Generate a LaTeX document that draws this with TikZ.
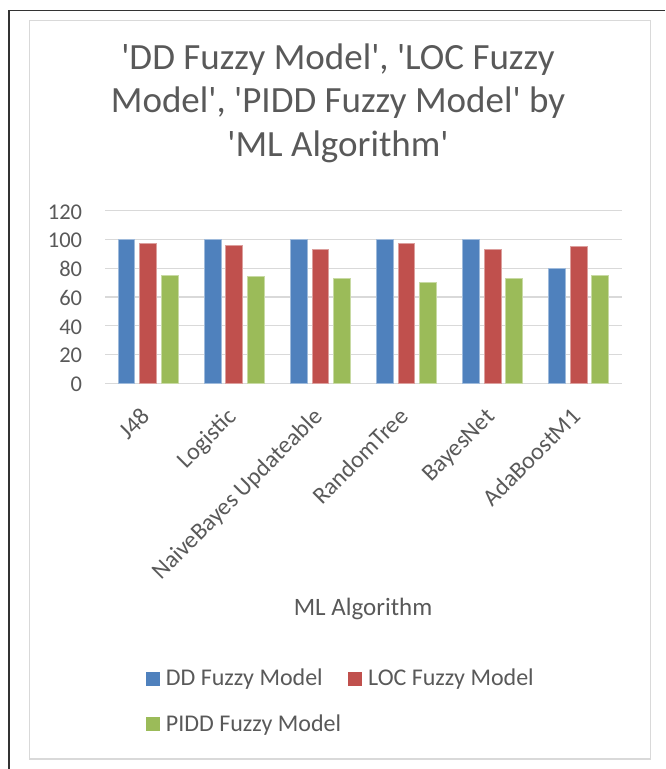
\documentclass[tikz,border=0pt]{standalone}
\usepackage{fontspec}
\setmainfont{Carlito}[Ligatures=TeXOff]
\usetikzlibrary{positioning}

\definecolor{ddblue}{HTML}{4F81BD}
\definecolor{locred}{HTML}{C0504D}
\definecolor{piddgreen}{HTML}{9BBB59}
\definecolor{labelgray}{HTML}{595959}
\definecolor{gridgray}{HTML}{D9D9D9}

\begin{document}
\begin{tikzpicture}[x=1pt,y=-1pt,
  grid line/.style={draw=gridgray,line width=1.4pt},
  bar/.style={line width=0.8pt},
  tick label/.style={text=labelgray,inner sep=0pt,
    font=\fontsize{22.5}{27}\selectfont},
  legend key/.style={minimum size=14pt,inner sep=0pt,outer sep=0pt},
  legend text/.style={text=labelgray,inner sep=0pt,
    font=\fontsize{24}{29}\selectfont}]

  \useasboundingbox (0,0) rectangle (665,769);

  % Outer frame (only top and left edges are visible) and chart area

  \draw [black!80, line width=1.6pt] (9,769) -- (9,10.3) -- (665,10.3);
  \draw [gridgray, line width=1.5pt] (29.7,20.7) rectangle (650.3,759);

  % Chart title

  \node [text=labelgray, align=center, anchor=base, inner sep=0pt,
    font=\fontsize{37}{43.2}\selectfont] (title) at (338,156)
    {'DD Fuzzy Model', 'LOC Fuzzy\\
     Model', 'PIDD Fuzzy Model' by\\
     'ML Algorithm'};

  % Value axis: gridlines every 20 units (1 unit = 1.4383pt)

  \foreach \v in {0,20,...,120} {
    \draw [grid line] (105,383.3-1.4383*\v) -- (621.7,383.3-1.4383*\v);
    \node [tick label, anchor=base east] (ytick\v)
      at (82.3,391.6-1.4383*\v) {\v};
  }

  % Bars and category labels, one group per ML algorithm

  \foreach \alg/\dd/\loc/\pidd [count=\i from 0] in
    {J48/100/97/75, Logistic/100/96/74,
     NaiveBayes Updateable/100/93/73, RandomTree/100/97/70,
     BayesNet/100/93/73, AdaBoostM1/80/95/75} {
    \pgfmathsetmacro{\cx}{105+86.12*(\i+0.5)}
    \filldraw [bar, fill=ddblue, draw=ddblue!55!white]
      (\cx-30,383.3) rectangle (\cx-13.2,383.3-1.4383*\dd);
    \filldraw [bar, fill=locred, draw=locred!55!white]
      (\cx-8.4,383.3) rectangle (\cx+8.4,383.3-1.4383*\loc);
    \filldraw [bar, fill=piddgreen, draw=piddgreen!55!white]
      (\cx+13.2,383.3) rectangle (\cx+30,383.3-1.4383*\pidd);
    \node [tick label, rotate=45, anchor=base east,
      font=\fontsize{24}{29}\selectfont] (cat\i)
      at (\cx+3.5,418) {\alg};
  }

  % Category axis title

  \node [text=labelgray, inner sep=0pt, anchor=base,
    font=\fontsize{25}{30}\selectfont] (xtitle) at (363,615) {ML Algorithm};

  % Legend

  \node [legend key, fill=ddblue] (keydd) at (153,678.7) {};
  \node [legend text, right=5.7pt of keydd.south east, anchor=base west]
    (txtdd) {DD Fuzzy Model};
  \node [legend key, fill=locred] (keyloc) at (355.3,678.7) {};
  \node [legend text, right=5.7pt of keyloc.south east, anchor=base west]
    (txtloc) {LOC Fuzzy Model};
  \node [legend key, fill=piddgreen] (keypidd) at (153,724) {};
  \node [legend text, right=5.7pt of keypidd.south east, anchor=base west]
    (txtpidd) {PIDD Fuzzy Model};
\end{tikzpicture}
\end{document}
